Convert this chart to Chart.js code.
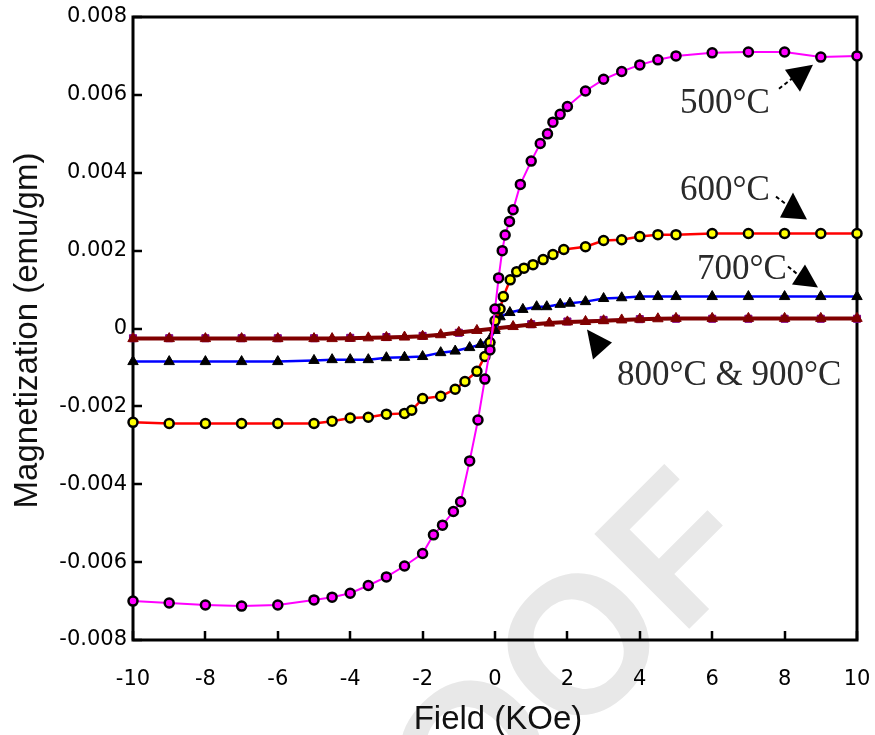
<!DOCTYPE html>
<html><head><meta charset="utf-8">
<script src="https://cdn.jsdelivr.net/npm/chart.js@4.4.1/dist/chart.umd.min.js"></script>
<style>html,body{margin:0;padding:0;background:#fff}canvas{display:block}</style>
</head><body>
<canvas id="c" width="875" height="735"></canvas>
<script>
// ---- data (Field in KOe, Magnetization in emu/gm) ----
const H500 = [-10,-9,-8,-7,-6,-5,-4.5,-4,-3.5,-3,-2.5,-2,-1.7,-1.45,-1.15,-0.95,-0.7,-0.47,-0.28,-0.14,0,0.1,0.2,0.28,0.4,0.5,0.7,1.0,1.25,1.45,1.6,1.8,2.0,2.5,3.0,3.5,4.0,4.5,5,6,7,8,9,10];
const M500 = [-0.00700,-0.00705,-0.00710,-0.00713,-0.00710,-0.00697,-0.00690,-0.00680,-0.00660,-0.00638,-0.00610,-0.00578,-0.00530,-0.00505,-0.00470,-0.00445,-0.00340,-0.00235,-0.00130,-0.00055,0.00050,0.00130,0.00200,0.00240,0.00275,0.00305,0.00370,0.00430,0.00475,0.00500,0.00530,0.00550,0.00570,0.00610,0.00640,0.00660,0.00677,0.00690,0.00700,0.00708,0.00710,0.00710,0.00697,0.00700];

const H600 = [-10,-9,-8,-7,-6,-5,-4.5,-4,-3.5,-3,-2.5,-2.3,-2.0,-1.5,-1.1,-0.83,-0.5,-0.28,-0.14,0,0.14,0.23,0.42,0.6,0.8,1.05,1.33,1.6,1.9,2.5,3,3.5,4,4.5,5,6,7,8,9,10];
const M600 = [-0.00241,-0.00244,-0.00244,-0.00244,-0.00244,-0.00244,-0.00238,-0.00230,-0.00228,-0.00220,-0.00218,-0.00210,-0.00180,-0.00174,-0.00156,-0.00136,-0.00110,-0.00072,-0.00036,0.00020,0.00050,0.00082,0.00125,0.00146,0.00155,0.00164,0.00177,0.00190,0.00203,0.00210,0.00226,0.00228,0.00236,0.00241,0.00241,0.00244,0.00244,0.00244,0.00244,0.00244];

const H700 = [-10,-9,-8,-7,-6,-5,-4.5,-4,-3.5,-3,-2.5,-2,-1.5,-1.1,-0.7,-0.4,-0.14,0,0.14,0.41,0.77,1.15,1.43,1.8,2.07,2.5,3,3.5,4,4.5,5,6,7,8,9,10];
const M700 = [-0.00085,-0.00085,-0.00085,-0.00085,-0.00085,-0.00082,-0.00080,-0.00080,-0.00080,-0.00075,-0.00074,-0.00072,-0.00062,-0.00058,-0.00049,-0.00041,-0.00028,-0.00005,0.00030,0.00041,0.00049,0.00056,0.00056,0.00062,0.00065,0.00069,0.00077,0.00079,0.00082,0.00082,0.00082,0.00082,0.00082,0.00082,0.00082,0.00082];

const H800 = [-10,-9,-8,-7,-6,-5,-4.5,-4,-3.5,-3,-2.5,-2,-1.5,-1,-0.5,0,0.5,1,1.5,2,2.5,3,3.5,4,4.5,5,6,7,8,9,10];
const M800 = [-0.00026,-0.00026,-0.00026,-0.00026,-0.00026,-0.00026,-0.00026,-0.00025,-0.00024,-0.00023,-0.00022,-0.00020,-0.00016,-0.00010,-0.00005,0,0.00005,0.00010,0.00014,0.00017,0.00018,0.00020,0.00022,0.00024,0.00025,0.00026,0.00026,0.00026,0.00026,0.00026,0.00026];

const H900 = [-10,-9,-8,-7,-6,-5,-4,-3,-2,-1,0,1,2,3,4,5,6,7,8,9,10];
const M900 = [-0.00025,-0.00025,-0.00025,-0.00025,-0.00025,-0.00025,-0.00024,-0.00022,-0.00019,-0.00011,0,0.00011,0.00018,0.00022,0.00024,0.00025,0.00025,0.00025,0.00025,0.00025,0.00025];

const xTickValues = [-10,-8,-6,-4,-2,0,2,4,6,8,10];
const xTickLabels = ['-10','-8','-6','-4','-2','0','2','4','6','8','10'];
const yTickValues = [-0.008,-0.006,-0.004,-0.002,0,0.002,0.004,0.006,0.008];
const yTickLabels = ['-0.008','-0.006','-0.004','-0.002','0','0.002','0.004','0.006','0.008'];

const seriesNames = ['500°C','600°C','700°C','800°C','900°C'];
const xTitle = 'Field (KOe)';
const yTitle = 'Magnetization (emu/gm)';

// ---- annotations (label anchor in data coords, arrow shapes as pixel offsets) ----
const notes = [
  {text:'500°C', x:5.11, y:0.00554, tri:[[105,-43],[133,-48],[120,-21]], line:[[99,-24],[113,-35]]},
  {text:'600°C', x:5.11, y:0.00331, tri:[[113,-7],[100,18],[127,20]], line:[[96,-3],[108,6]]},
  {text:'700°C', x:5.58, y:0.00126, tri:[[108,-15],[95,5],[121,8]], line:[[91,-13],[102,-4]]},
  {text:'800°C & 900°C', x:3.37, y:-0.00144, tri:[[-30,-55],[-5,-42],[-24,-25]], line:null}
];

const pts = (h, m) => h.map((v, i) => ({x: v, y: m[i]}));

const deco = {
  id: 'deco',
  beforeDraw(chart) {
    const ctx = chart.ctx;
    ctx.save();
    ctx.fillStyle = '#fff';
    ctx.fillRect(0, 0, chart.width, chart.height);
    // watermark
    ctx.translate(690, 628);
    ctx.rotate(-45 * Math.PI / 180);
    ctx.font = 'bold 195px "Liberation Sans", Arial, sans-serif';
    ctx.fillStyle = '#e8e8e8';
    ctx.textBaseline = 'alphabetic';
    const w = ctx.measureText('PROO').width;
    ctx.fillText('PROOF', -w - 14, 0);
    ctx.restore();
  },
  beforeDatasetsDraw(chart) {
    const ctx = chart.ctx, a = chart.chartArea;
    const xs = chart.scales.x, ys = chart.scales.y;
    ctx.save();
    ctx.strokeStyle = '#000';
    ctx.lineWidth = 2.5;
    ctx.beginPath();
    xTickValues.forEach(v => { const p = Math.round(xs.getPixelForValue(v)); ctx.moveTo(p, a.bottom); ctx.lineTo(p, a.bottom - 9); });
    yTickValues.forEach(v => { const p = Math.round(ys.getPixelForValue(v)); ctx.moveTo(a.left, p); ctx.lineTo(a.left + 9, p); });
    ctx.stroke();
    ctx.lineWidth = 3;
    ctx.strokeRect(a.left, a.top, a.right - a.left, a.bottom - a.top);
    ctx.restore();
  },
  afterDatasetsDraw(chart) {
    const ctx = chart.ctx, a = chart.chartArea;
    const xs = chart.scales.x, ys = chart.scales.y;
    ctx.save();
    // annotations
    ctx.font = '35px "Liberation Serif", "Times New Roman", serif';
    ctx.textBaseline = 'alphabetic';
    ctx.textAlign = 'left';
    notes.forEach(n => {
      const px = xs.getPixelForValue(n.x), py = ys.getPixelForValue(n.y);
      ctx.fillStyle = '#2a2a2a';
      ctx.fillText(n.text, px, py);
      ctx.fillStyle = '#000';
      ctx.beginPath();
      ctx.moveTo(px + n.tri[0][0], py + n.tri[0][1]);
      ctx.lineTo(px + n.tri[1][0], py + n.tri[1][1]);
      ctx.lineTo(px + n.tri[2][0], py + n.tri[2][1]);
      ctx.closePath();
      ctx.fill();
      if (n.line) {
        ctx.strokeStyle = '#000';
        ctx.lineWidth = 2;
        ctx.setLineDash([4, 3]);
        ctx.beginPath();
        ctx.moveTo(px + n.line[0][0], py + n.line[0][1]);
        ctx.lineTo(px + n.line[1][0], py + n.line[1][1]);
        ctx.stroke();
        ctx.setLineDash([]);
      }
    });
    // axis titles
    ctx.fillStyle = '#111';
    ctx.font = '33px "Liberation Sans", Arial, sans-serif';
    ctx.textAlign = 'center';
    ctx.fillText(xTitle, (a.left + a.right) / 2 + 3, 729);
    ctx.translate(37, (a.top + a.bottom) / 2 + 2);
    ctx.rotate(-Math.PI / 2);
    ctx.fillText(yTitle, 0, 0);
    ctx.restore();
  }
};

const common = {showLine: true, tension: 0, clip: false, pointBorderColor: '#000', pointBorderWidth: 2.5, pointRadius: 4.5};

new Chart(document.getElementById('c'), {
  type: 'scatter',
  data: {
    datasets: [
      Object.assign({}, common, {label: seriesNames[0], data: pts(H500, M500), borderColor: '#ff00ff', borderWidth: 2, pointStyle: 'circle', pointBackgroundColor: '#ff00ff', order: 1}),
      Object.assign({}, common, {label: seriesNames[1], data: pts(H600, M600), borderColor: '#ff0000', borderWidth: 2.5, pointStyle: 'circle', pointBackgroundColor: '#ffff00', order: 2}),
      Object.assign({}, common, {label: seriesNames[2], data: pts(H700, M700), borderColor: '#0000ff', borderWidth: 2.5, pointStyle: 'triangle', pointBackgroundColor: '#000', pointRadius: 6, pointBorderWidth: 1, order: 3}),
      Object.assign({}, common, {label: seriesNames[3], data: pts(H800, M800), borderColor: '#800000', borderWidth: 4, pointStyle: 'triangle', pointBackgroundColor: '#800000', pointBorderColor: '#800000', pointBorderWidth: 1, pointRadius: 6, order: 4}),
      Object.assign({}, common, {label: seriesNames[4], data: pts(H900, M900), borderColor: '#800080', borderWidth: 2, pointStyle: 'rect', pointBackgroundColor: '#800080', pointBorderColor: '#800080', pointBorderWidth: 1, pointRadius: 5, order: 5})
    ]
  },
  options: {
    responsive: false,
    devicePixelRatio: 1,
    animation: false,
    layout: {padding: {left: 0, top: 17, right: 18, bottom: 0}},
    plugins: {legend: {display: false}, tooltip: {enabled: false}},
    scales: {
      x: {
        type: 'linear', min: -10, max: 10,
        afterBuildTicks: s => { s.ticks = xTickValues.map(v => ({value: v})); },
        afterFit: s => { s.height = 95; s.paddingLeft = 0; s.paddingRight = 0; },
        grid: {display: false, drawTicks: false},
        border: {display: false},
        ticks: {padding: 27, color: '#000', font: {family: '"DejaVu Sans", sans-serif', size: 21},
          callback: (v, i) => xTickLabels[i], maxRotation: 0, autoSkip: false}
      },
      y: {
        type: 'linear', min: -0.008, max: 0.008,
        afterBuildTicks: s => { s.ticks = yTickValues.map(v => ({value: v})); },
        afterFit: s => { s.width = 133; s.paddingTop = 0; s.paddingBottom = 0; },
        grid: {display: false, drawTicks: false},
        border: {display: false},
        ticks: {padding: 6, color: '#000', font: {family: '"DejaVu Sans", sans-serif', size: 21},
          callback: (v, i) => yTickLabels[i], autoSkip: false}
      }
    }
  },
  plugins: [deco]
});
</script>
</body></html>
